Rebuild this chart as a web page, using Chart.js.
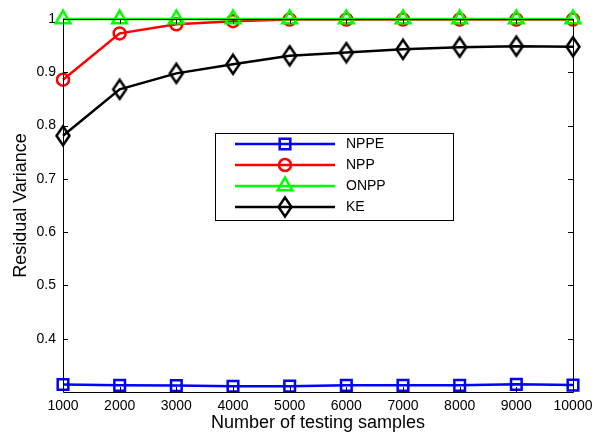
<!DOCTYPE html>
<html>
<head>
<meta charset="utf-8">
<script src="https://cdn.jsdelivr.net/npm/chart.js@4.4.1/dist/chart.umd.min.js"></script>
<style>
  html, body { margin: 0; padding: 0; background: #fff; }
  #wrap { width: 603px; height: 438px; }
</style>
</head>
<body>
<div id="wrap"><canvas id="c" width="603" height="438"></canvas></div>
<script>
// Sample counts on the x axis
const samples = [1000, 2000, 3000, 4000, 5000, 6000, 7000, 8000, 9000, 10000];

// Residual variance per method
const nppe = [0.314, 0.3125, 0.312, 0.3107, 0.311, 0.3125, 0.3125, 0.3125, 0.3144, 0.313];
const npp  = [0.886, 0.973, 0.990, 0.996, 0.999, 0.999, 0.999, 0.999, 0.999, 0.999];
const onpp = [1.0, 1.0, 1.0, 1.0, 1.0, 1.0, 1.0, 1.0, 1.0, 1.0];
const ke   = [0.781, 0.868, 0.898, 0.915, 0.931, 0.937, 0.943, 0.947, 0.949, 0.948];

// Axis ticks
const xTicks = [1000, 2000, 3000, 4000, 5000, 6000, 7000, 8000, 9000, 10000];
const yTicks = [0.4, 0.5, 0.6, 0.7, 0.8, 0.9, 1.0];

const FONT = '"Liberation Sans", Arial, Helvetica, sans-serif';
const LW = 2.5;

// Tall diamond marker
function diamondMarker(color) {
  const c = document.createElement('canvas');
  c.width = 18; c.height = 24;
  const g = c.getContext('2d');
  g.strokeStyle = color;
  g.lineWidth = LW;
  g.lineJoin = 'miter';
  g.beginPath();
  g.moveTo(9, 2.5);
  g.lineTo(15.5, 12);
  g.lineTo(9, 21.5);
  g.lineTo(2.5, 12);
  g.closePath();
  g.stroke();
  return c;
}

function series(label, values, color, style, radius, order) {
  return {
    label,
    data: samples.map((x, i) => ({ x, y: values[i] })),
    borderColor: color,
    backgroundColor: 'rgba(0,0,0,0)',
    borderWidth: LW,
    pointStyle: style,
    pointRadius: radius,
    pointBorderWidth: LW,
    pointBorderColor: color,
    pointBackgroundColor: 'rgba(0,0,0,0)',
    pointHoverRadius: radius,
    tension: 0,
    clip: false,
    order
  };
}

const datasets = [
  series('NPPE', nppe, '#0000ff', 'rect', 7.5, 4),
  series('NPP', npp, '#ff0000', 'circle', 6, 3),
  series('ONPP', onpp, '#00ff00', 'triangle', 8.5, 2),
  series('KE', ke, '#000000', diamondMarker('#000000'), 9, 1)
];

// Axes box with inward tick marks, drawn over the data
const frame = {
  id: 'frame',
  afterDatasetsDraw(chart) {
    const { ctx, chartArea: a, scales: { x, y } } = chart;
    ctx.save();
    ctx.strokeStyle = '#000';
    ctx.lineWidth = 1;
    ctx.beginPath();
    ctx.rect(Math.round(a.left) + 0.5, Math.round(a.top) + 0.5,
             Math.round(a.right - a.left), Math.round(a.bottom - a.top));
    ctx.stroke();
    const tl = 5;
    ctx.beginPath();
    xTicks.forEach(v => {
      const px = Math.round(x.getPixelForValue(v)) + 0.5;
      ctx.moveTo(px, a.bottom); ctx.lineTo(px, a.bottom - tl);
      ctx.moveTo(px, a.top); ctx.lineTo(px, a.top + tl);
    });
    yTicks.forEach(v => {
      const py = Math.round(y.getPixelForValue(v)) + 0.5;
      ctx.moveTo(a.left, py); ctx.lineTo(a.left + tl, py);
      ctx.moveTo(a.right, py); ctx.lineTo(a.right - tl, py);
    });
    ctx.stroke();
    ctx.restore();
  }
};

// Boxed legend inside the plot
const boxLegend = {
  id: 'boxLegend',
  afterDraw(chart) {
    const { ctx } = chart;
    const bx = 215, by = 133, bw = 238, bh = 87;
    ctx.save();
    ctx.fillStyle = '#fff';
    ctx.fillRect(bx, by, bw, bh);
    ctx.strokeStyle = '#000';
    ctx.lineWidth = 1;
    ctx.strokeRect(bx + 0.5, by + 0.5, bw, bh);
    const rows = [144, 165, 186, 207];
    chart.data.datasets.forEach((ds, i) => {
      const yy = rows[i];
      ctx.strokeStyle = ds.borderColor;
      ctx.lineWidth = LW;
      ctx.beginPath();
      ctx.moveTo(235, yy); ctx.lineTo(335, yy);
      ctx.stroke();
      ctx.fillStyle = 'rgba(0,0,0,0)';
      ctx.strokeStyle = ds.borderColor;
      ctx.lineWidth = LW;
      Chart.helpers.drawPoint(ctx, {
        pointStyle: ds.pointStyle,
        radius: ds.pointRadius,
        borderWidth: LW,
        rotation: 0
      }, 285, yy);
      ctx.fillStyle = '#000';
      ctx.font = '14px ' + FONT;
      ctx.textBaseline = 'middle';
      ctx.textAlign = 'left';
      ctx.fillText(ds.label, 346, yy + 0.5);
    });
    ctx.restore();
  }
};

new Chart(document.getElementById('c'), {
  type: 'line',
  data: { datasets },
  plugins: [frame, boxLegend],
  options: {
    responsive: false,
    animation: false,
    events: [],
    layout: { padding: { left: 0, right: 30, top: 19, bottom: 0 } },
    plugins: { legend: { display: false }, tooltip: { enabled: false } },
    scales: {
      x: {
        type: 'linear',
        min: 1000,
        max: 10000,
        afterBuildTicks(s) { s.ticks = xTicks.map(v => ({ value: v })); },
        afterFit(s) { s.height = 46; s.paddingLeft = 0; s.paddingRight = 0; },
        grid: { display: false, drawTicks: false },
        border: { display: false },
        ticks: {
          color: '#000',
          font: { family: FONT, size: 14 },
          padding: 6,
          maxRotation: 0,
          autoSkip: false,
          callback: v => String(v)
        },
        title: {
          display: true,
          text: 'Number of testing samples',
          color: '#000',
          font: { family: FONT, size: 18 },
          padding: { top: 0, bottom: 4 }
        }
      },
      y: {
        type: 'linear',
        min: 0.3,
        max: 1.0,
        afterBuildTicks(s) { s.ticks = yTicks.map(v => ({ value: v })); },
        afterFit(s) { s.width = 63; s.paddingTop = 0; s.paddingBottom = 0; },
        grid: { display: false, drawTicks: false },
        border: { display: false },
        ticks: {
          color: '#000',
          font: { family: FONT, size: 14 },
          padding: 7,
          autoSkip: false,
          callback: v => (Math.abs(v - 1) < 1e-9 ? '1' : v.toFixed(1))
        },
        title: {
          display: true,
          text: 'Residual Variance',
          color: '#000',
          font: { family: FONT, size: 18 },
          padding: { top: 10, bottom: 0 }
        }
      }
    }
  }
});
</script>
</body>
</html>
